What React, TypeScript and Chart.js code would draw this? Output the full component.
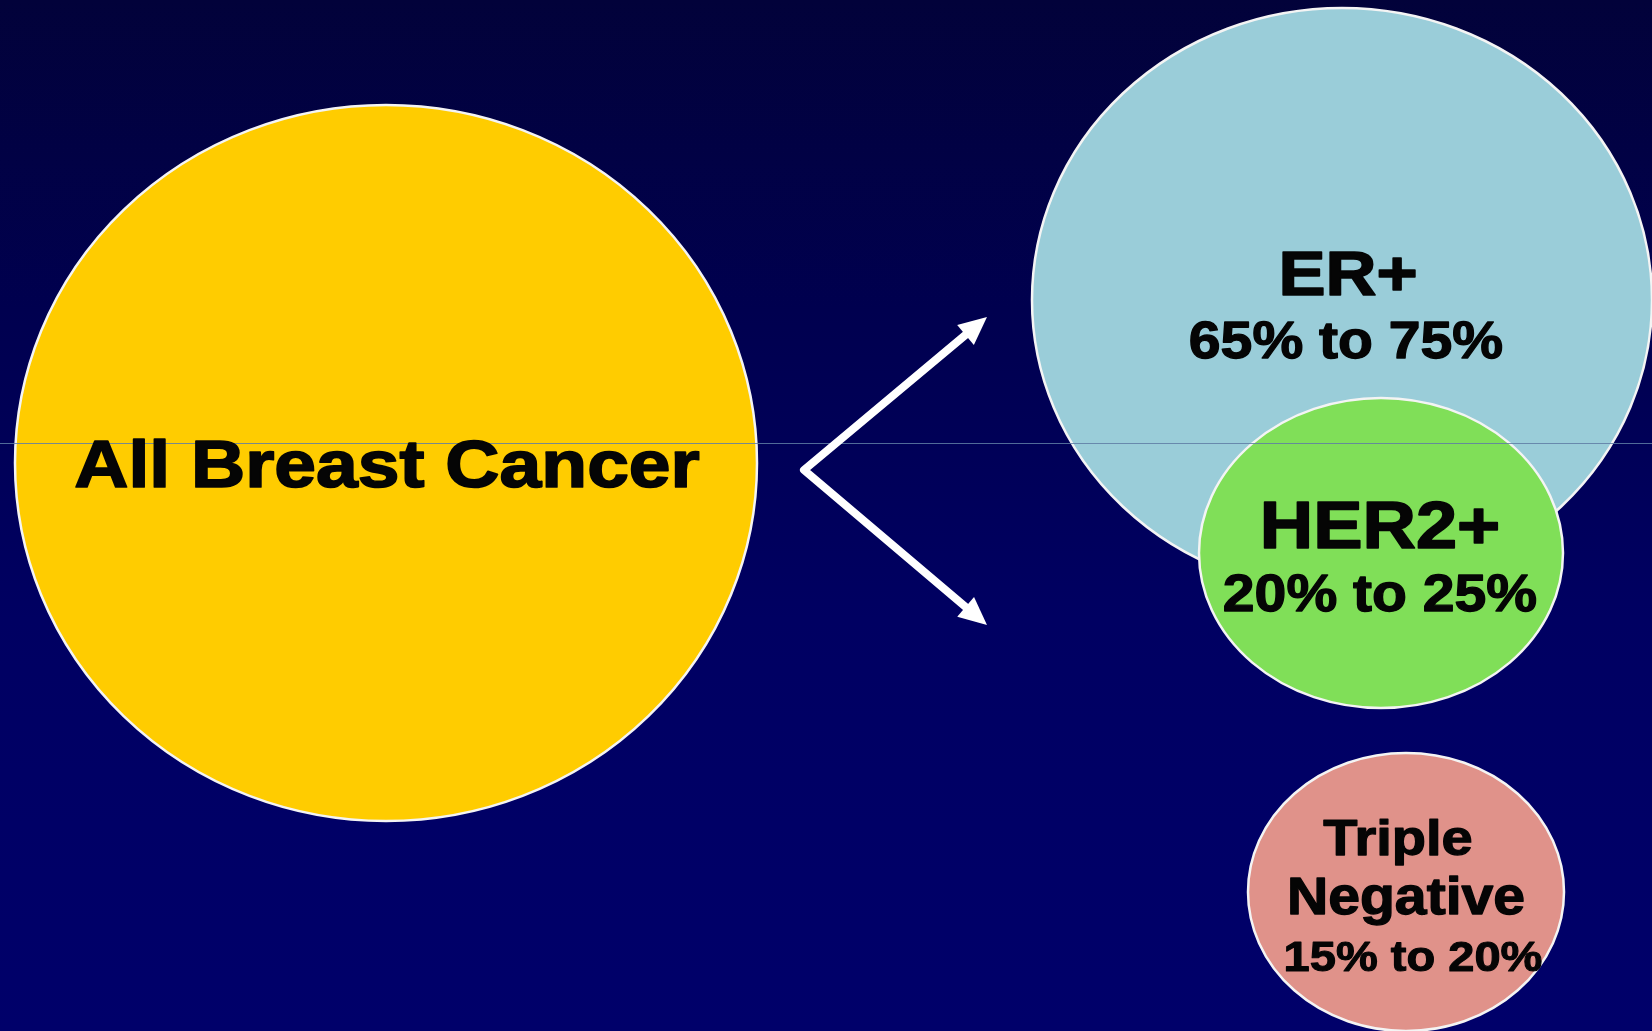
import React, { useEffect, useRef } from "react";
import { Chart, registerables } from "chart.js";

Chart.register(...registerables);

// ---- Data ----
const groups = ["All Breast Cancer", "ER+", "HER2+", "Triple Negative"];
const rangeLow: (number | null)[] = [null, 65, 20, 15];
const rangeHigh: (number | null)[] = [null, 75, 25, 20];
// bubble centres and radii in chart units
const centerX = [386, 1342, 1381, 1406];
const centerY = [463, 300, 553, 892];
const radiusX = [371, 310, 182, 158];
const radiusY = [358, 292, 155, 139];

const W = 1652;
const H = 1031;

const fills = ["#FFCC00", "#9ACDD9", "#80DF58", "#E0928A"];
const FONT = "'Liberation Sans', Arial, Helvetica, sans-serif";
const STRETCH = 1.12;

function rangeText(i: number) {
  return `${rangeLow[i]}% to ${rangeHigh[i]}%`;
}

const drawPlugin = {
  id: "vennDraw",
  beforeDatasetsDraw(chart: any) {
    const { ctx, chartArea } = chart;
    const xs = chart.scales.x;
    const ys = chart.scales.y;
    ctx.save();
    // background
    const g = ctx.createLinearGradient(0, chartArea.top, 0, chartArea.bottom);
    g.addColorStop(0, "#02023a");
    g.addColorStop(0.3, "#00004f");
    g.addColorStop(0.6, "#000062");
    g.addColorStop(1, "#00006a");
    ctx.fillStyle = g;
    ctx.fillRect(0, 0, chart.width, chart.height);

    // ellipses
    chart.data.datasets.forEach((ds: any, i: number) => {
      const meta = chart.getDatasetMeta(i);
      const el = meta.data[0];
      const cx = el.x;
      const cy = el.y;
      const rx = Math.abs(xs.getPixelForValue(centerX[i] + radiusX[i]) - cx);
      const ry = Math.abs(ys.getPixelForValue(centerY[i] + radiusY[i]) - cy);
      ctx.beginPath();
      ctx.ellipse(cx, cy, rx, ry, 0, 0, Math.PI * 2);
      ctx.fillStyle = fills[i];
      ctx.fill();
      ctx.lineWidth = 2.5;
      ctx.strokeStyle = "#F4F4F4";
      ctx.stroke();
    });

    // thin horizontal rule artefact
    ctx.beginPath();
    ctx.moveTo(0, ys.getPixelForValue(443) + 0.5);
    ctx.lineTo(chart.width, ys.getPixelForValue(443) + 0.5);
    ctx.lineWidth = 1;
    ctx.strokeStyle = "rgba(95,125,165,0.85)";
    ctx.stroke();

    // arrows
    const v = { x: xs.getPixelForValue(804), y: ys.getPixelForValue(470) };
    const tips = [
      { x: xs.getPixelForValue(987), y: ys.getPixelForValue(317) },
      { x: xs.getPixelForValue(987), y: ys.getPixelForValue(625) },
    ];
    ctx.strokeStyle = "#FFFFFF";
    ctx.fillStyle = "#FFFFFF";
    ctx.lineWidth = 8;
    ctx.lineJoin = "round";
    ctx.lineCap = "butt";
    const bases = tips.map((t) => {
      const dx = t.x - v.x;
      const dy = t.y - v.y;
      const len = Math.hypot(dx, dy);
      const ux = dx / len;
      const uy = dy / len;
      const headLen = 28;
      const headW = 13;
      const bx = t.x - ux * headLen;
      const by = t.y - uy * headLen;
      ctx.beginPath();
      ctx.moveTo(t.x, t.y);
      ctx.lineTo(bx - uy * headW, by + ux * headW);
      ctx.lineTo(bx + uy * headW, by - ux * headW);
      ctx.closePath();
      ctx.fill();
      return { x: bx + ux * 2, y: by + uy * 2 };
    });
    ctx.beginPath();
    ctx.moveTo(bases[0].x, bases[0].y);
    ctx.lineTo(v.x, v.y);
    ctx.lineTo(bases[1].x, bases[1].y);
    ctx.stroke();

    // labels
    const text = (s: string, x: number, y: number, size: number) => {
      ctx.save();
      ctx.font = `bold ${size}px ${FONT}`;
      ctx.textAlign = "center";
      ctx.textBaseline = "alphabetic";
      ctx.fillStyle = "#050505";
      ctx.strokeStyle = "#050505";
      ctx.lineWidth = size / 40;
      ctx.lineJoin = "round";
      ctx.translate(x, y);
      ctx.scale(STRETCH, 1);
      ctx.fillText(s, 0, 0);
      ctx.strokeText(s, 0, 0);
      ctx.restore();
    };
    const px = (i: number, off: number) => chart.getDatasetMeta(i).data[0].x + off;
    const py = (i: number, off: number) => chart.getDatasetMeta(i).data[0].y + off;

    text(groups[0], px(0, 1), py(0, 24), 67);
    text(groups[1], px(1, 6), py(1, -5), 63);
    text(rangeText(1), px(1, 4), py(1, 58), 51);
    text(groups[2], px(2, -1), py(2, -5), 66);
    text(rangeText(2), px(2, -1), py(2, 58), 51);
    const [w1, w2] = groups[3].split(" ");
    text(w1, px(3, -8), py(3, -37), 50);
    text(w2, px(3, 0), py(3, 22), 51);
    text(rangeText(3), px(3, 7), py(3, 79), 42);

    ctx.restore();
  },
};

export default function App() {
  const ref = useRef<HTMLCanvasElement | null>(null);

  useEffect(() => {
    document.body.style.margin = "0";
    document.body.style.overflow = "hidden";
    const canvas = ref.current;
    if (!canvas) return;
    const chart = new Chart(canvas, {
      type: "scatter",
      data: {
        datasets: groups.map((g, i) => ({
          label: g,
          data: [{ x: centerX[i], y: centerY[i] }],
          pointRadius: 0,
          pointHoverRadius: 0,
          backgroundColor: fills[i],
        })),
      },
      options: {
        responsive: false,
        animation: false,
        devicePixelRatio: 1,
        layout: { padding: 0 },
        events: [],
        scales: {
          x: { type: "linear", min: 0, max: W, display: false },
          y: { type: "linear", min: 0, max: H, reverse: true, display: false },
        },
        plugins: {
          legend: { display: false },
          tooltip: { enabled: false },
          title: { display: false },
        },
      },
      plugins: [drawPlugin],
    });
    return () => chart.destroy();
  }, []);

  return (
    <div style={{ width: W, height: H, overflow: "hidden" }}>
      <canvas ref={ref} width={W} height={H} style={{ display: "block" }} />
    </div>
  );
}
